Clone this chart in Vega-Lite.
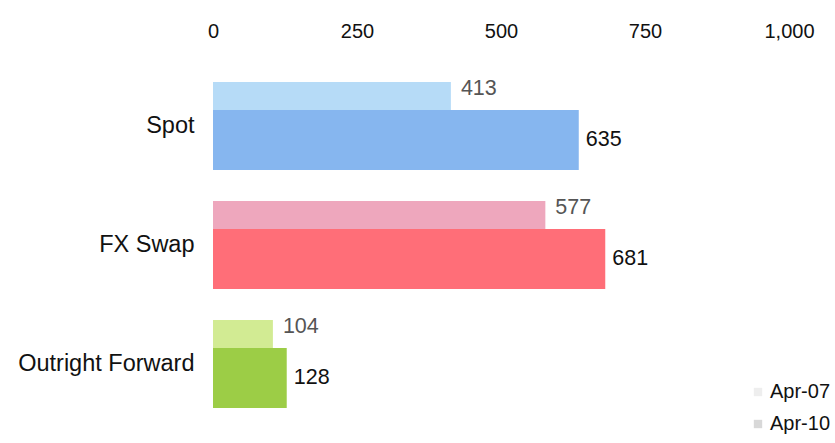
{
  "$schema": "https://vega.github.io/schema/vega-lite/v6.json",
  "width": 576,
  "height": 356,
  "autosize": "none",
  "padding": {"left": 213, "top": 67, "right": 46, "bottom": 20},
  "background": "white",
  "config": {
    "view": {"stroke": null},
    "font": "Liberation Sans",
    "text": {"font": "Liberation Sans"}
  },
  "data": {
    "values": [
      {"category": "Spot", "period": "Apr-07", "value": 413},
      {"category": "Spot", "period": "Apr-10", "value": 635},
      {"category": "FX Swap", "period": "Apr-07", "value": 577},
      {"category": "FX Swap", "period": "Apr-10", "value": 681},
      {"category": "Outright Forward", "period": "Apr-07", "value": 104},
      {"category": "Outright Forward", "period": "Apr-10", "value": 128}
    ]
  },
  "encoding": {
    "y": {
      "field": "category",
      "type": "nominal",
      "sort": ["Spot", "FX Swap", "Outright Forward"],
      "scale": {"paddingInner": 0.26, "paddingOuter": 0.126},
      "axis": {
        "title": null,
        "domain": false,
        "ticks": false,
        "labelPadding": 19,
        "labelFontSize": 23.5,
        "labelColor": "#111111",
        "labelFont": "Liberation Sans"
      }
    },
    "x": {
      "field": "value",
      "type": "quantitative",
      "scale": {"domain": [0, 1000], "nice": false},
      "axis": {
        "orient": "top",
        "title": null,
        "grid": false,
        "domain": false,
        "ticks": false,
        "values": [0, 250, 500, 750, 1000],
        "format": ",.0f",
        "labelFlush": false,
        "labelOverlap": false,
        "labelPadding": 26,
        "labelFontSize": 20,
        "labelColor": "#111111",
        "labelFont": "Liberation Sans"
      }
    }
  },
  "layer": [
    {
      "transform": [{"filter": "datum.period === 'Apr-07'"}],
      "mark": {"type": "bar", "height": 28, "yOffset": -30},
      "encoding": {
        "color": {
          "field": "category",
          "type": "nominal",
          "scale": {
            "domain": ["Spot", "FX Swap", "Outright Forward"],
            "range": ["#b6dbf7", "#eea7bd", "#d2eb93"]
          },
          "legend": null
        }
      }
    },
    {
      "transform": [{"filter": "datum.period === 'Apr-10'"}],
      "mark": {"type": "bar", "height": 60, "yOffset": 14},
      "encoding": {
        "color": {
          "field": "category",
          "type": "nominal",
          "scale": {
            "domain": ["Spot", "FX Swap", "Outright Forward"],
            "range": ["#86b6ef", "#ff6e78", "#9ccd46"]
          },
          "legend": null
        }
      }
    },
    {
      "transform": [{"filter": "datum.period === 'Apr-07'"}],
      "mark": {
        "type": "text",
        "align": "left",
        "baseline": "middle",
        "dx": 10,
        "yOffset": -37,
        "fontSize": 21.5,
        "color": "#555555"
      },
      "encoding": {"text": {"field": "value", "type": "quantitative"}}
    },
    {
      "transform": [{"filter": "datum.period === 'Apr-10'"}],
      "mark": {
        "type": "text",
        "align": "left",
        "baseline": "middle",
        "dx": 7,
        "yOffset": 14,
        "fontSize": 21.5,
        "color": "#111111"
      },
      "encoding": {"text": {"field": "value", "type": "quantitative"}}
    },
    {
      "mark": {"type": "square", "opacity": 0},
      "encoding": {
        "fill": {
          "field": "period",
          "type": "nominal",
          "scale": {"domain": ["Apr-07", "Apr-10"], "range": ["#eeeeee", "#d8d8d8"]},
          "legend": {
            "title": null,
            "orient": "none",
            "legendX": 535,
            "legendY": 315,
            "symbolType": "square",
            "symbolSize": 70,
            "symbolOpacity": 1,
            "symbolStrokeWidth": 0,
            "labelFontSize": 20,
            "labelColor": "#111111",
            "labelFont": "Liberation Sans",
            "labelOffset": 2,
            "rowPadding": 12
          }
        }
      }
    }
  ],
  "resolve": {"scale": {"color": "independent"}}
}
